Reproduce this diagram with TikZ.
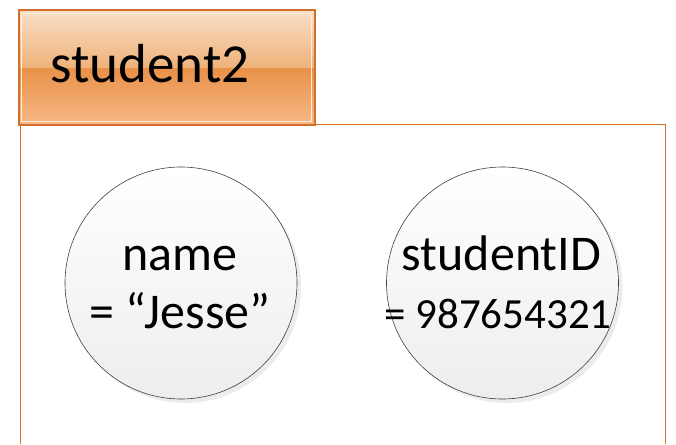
\documentclass[tikz,border=0pt]{standalone}
\usepackage{fontspec}
\setmainfont{Carlito}
\usetikzlibrary{shadows}
\definecolor{frameorange}{RGB}{210,112,42}
\definecolor{toplight}{RGB}{249,222,198}
\definecolor{topmid}{RGB}{238,178,122}
\definecolor{botdark}{RGB}{233,145,72}
\definecolor{botlight}{RGB}{246,184,135}
\tikzset{
  attr/.style={circle, draw=black!75, line width=0.6pt, minimum size=232pt, inner sep=0pt,
    top color=white, bottom color=black!7,
    drop shadow={shadow xshift=4pt, shadow yshift=-4pt, fill=black!12, opacity=0.6}},
  bigtext/.style={anchor=base, font=\fontsize{50}{60}\selectfont, inner sep=0pt},
  smalltext/.style={anchor=base, font=\fontsize{43}{52}\selectfont, inner sep=0pt},
  frameline/.style={draw=frameorange, line width=0.8pt}
}
\begin{document}
\begin{tikzpicture}[x=1pt,y=-1pt]
\useasboundingbox (0,0) rectangle (676,444);
% outer frame
\draw[frameline] (20,124) -- (20,444);
\draw[frameline] (315,124) -- (665,124) -- (665,444);
% title box
\shade[top color=toplight, bottom color=topmid] (19,11) rectangle (314,68);
\shade[top color=botdark, bottom color=botlight] (19,68) rectangle (314,124);
\draw[white!85!orange, line width=0.6pt] (21.5,13.5) rectangle (311.5,121.5);
\node[draw=frameorange, line width=2pt, minimum width=296pt, minimum height=114pt, inner sep=0pt] (title) at (166.5,67.5) {};
\node[font=\fontsize{55}{60}\selectfont, anchor=base west, inner sep=0pt] (titletext) at (50,82) {student2};
% circles
\node[attr] (name) at (181,283) {};
\node[attr] (sid) at (502.5,283) {};
\node[bigtext] (nametext) at (180,270) {name};
\node[bigtext] (jesse) at (180,328) {= “Jesse”};
\node[bigtext] (sidtext) at (501.5,270) {studentID};
\node[smalltext] (num) at (498,328) {= 987654321};
\end{tikzpicture}
\end{document}
